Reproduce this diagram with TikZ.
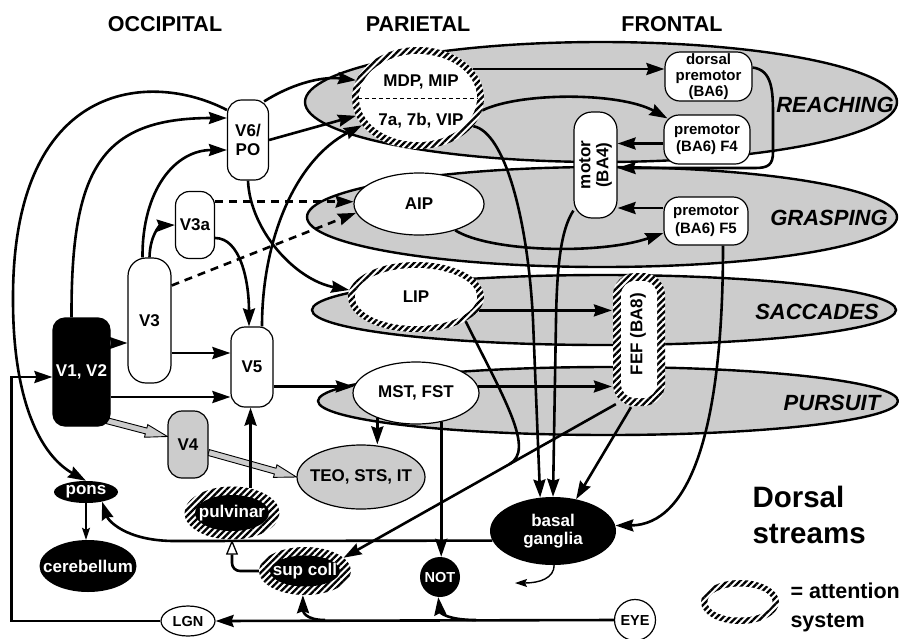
\documentclass[tikz,border=0pt]{standalone}
\usepackage{fontspec}
\setmainfont{Liberation Sans}
\usetikzlibrary{shapes.geometric,arrows.meta,patterns.meta,calc}
\pgfdeclarelayer{back}
\pgfdeclarelayer{streams}
\pgfdeclarelayer{links}
\pgfsetlayers{back,streams,links,main}
\definecolor{streamgray}{gray}{0.8}
\newcommand\hollowarr[2]{%
 \coordinate (hA) at (#1); \coordinate (hB) at (#2);
 \coordinate (hH) at ($(hB)!22pt!(hA)$);
 \filldraw[fill=streamgray, draw=black, line width=0.9pt, line join=miter]
   ($(hA)!3pt!90:(hB)$) -- ($(hH)!3pt!-90:(hA)$) -- ($(hH)!6.5pt!-90:(hA)$) -- (hB)
   -- ($(hH)!6.5pt!90:(hA)$) -- ($(hH)!3pt!90:(hA)$) -- ($(hA)!3pt!-90:(hB)$) -- cycle;}
\tikzset{
 lbl/.style={font=\bfseries\fontsize{17}{19}\selectfont},
 vbox/.style={draw, line width=1.2pt, rounded corners=14pt, fill=white, inner sep=0pt, lbl, align=center},
 pbox/.style={draw, line width=1.2pt, rounded corners=15pt, fill=white, inner sep=0pt, align=center, font=\bfseries\fontsize{15}{17.5}\selectfont},
 oval/.style={ellipse, draw, line width=1.2pt, inner xsep=-25pt, inner ysep=-6pt, lbl},
 blk/.style={ellipse, fill=black, text=white, inner xsep=-25pt, inner ysep=-6pt, lbl},
 hatch/.style={preaction={fill=white}, pattern={Lines[angle=45,distance=4.6pt,line width=2.3pt]}},
 arr/.style={line width=2.6pt, -{Stealth[length=18pt,width=12pt,inset=2pt]}},
 ln/.style={line width=2.6pt},
 sarr/.style={line width=1.4pt, -{Stealth[length=12pt,width=8pt,inset=2pt]}},
 darr/.style={arr, dash pattern=on 8pt off 6pt},
 harr/.style={line width=2.6pt, -{Triangle[length=15pt,width=12pt,fill=white,line width=1.3pt]}},
 stream/.style={draw, line width=2.4pt, fill=streamgray},
 zone/.style={font=\bfseries\itshape\fontsize{22}{24}\selectfont},
 head/.style={font=\bfseries\fontsize{21.5}{24}\selectfont},
}
\begin{document}
\begin{tikzpicture}[x=1pt,y=-1pt]
\useasboundingbox (0,0) rectangle (899,638);
\begin{pgfonlayer}{back}
\fill[white] (0,0) rectangle (899,638);
\end{pgfonlayer}
\begin{pgfonlayer}{streams}
\draw[stream] (601,102) ellipse [x radius=296pt, y radius=60pt];
\draw[stream] (602,217) ellipse [x radius=295pt, y radius=50pt];
\draw[stream] (604,310) ellipse [x radius=292pt, y radius=35pt];
\draw[stream] (608,401) ellipse [x radius=290pt, y radius=34pt];
\end{pgfonlayer}

% headings and zone labels
\node[head] (hOcc) at (165,24) {OCCIPITAL};
\node[head] (hPar) at (418,24) {PARIETAL};
\node[head] (hFro) at (672,24) {FRONTAL};
\node[zone] (zReach) at (835,105) {REACHING};
\node[zone] (zGrasp) at (829,218) {GRASPING};
\node[zone] (zSacc) at (817,312) {SACCADES};
\node[zone] (zPurs) at (832,403) {PURSUIT};

% occipital
\node[vbox, minimum width=41pt, minimum height=80pt] (V6) at (248,140) {V6/\\PO};
\node[vbox, minimum width=39pt, minimum height=67pt] (V3a) at (195,225) {V3a};
\node[vbox, minimum width=43pt, minimum height=125pt, rounded corners=18pt] (V3) at (149.5,320.5) {V3};
\node[vbox, fill=black, text=white, minimum width=57pt, minimum height=108pt, rounded corners=12pt] (V1) at (81.5,372) {V1, V2};
\node[vbox, minimum width=42pt, minimum height=80pt] (V5) at (252,367) {V5};
\node[vbox, fill=streamgray, minimum width=40pt, minimum height=67pt] (V4) at (188,444.5) {V4};

% frontal
\node[pbox, minimum width=87pt, minimum height=49pt, font=\bfseries\fontsize{15}{16}\selectfont] (dpm) at (708.5,76.5) {dorsal\\premotor\\(BA6)};
\node[pbox, minimum width=86pt, minimum height=49pt] (F4) at (707,139.5) {premotor\\(BA6) F4};
\node[pbox, minimum width=84pt, minimum height=48pt] (F5) at (706,221) {premotor\\(BA6) F5};
\node[vbox, rounded corners=18pt, minimum width=43pt, minimum height=106pt] (motor) at (595.5,165) {};
\node[rotate=90, lbl, align=center, font=\bfseries\fontsize{17}{18}\selectfont] (motorlbl) at (motor.center) {motor\\(BA4)};
\node[rectangle, rounded corners=22pt, minimum width=52pt, minimum height=133pt, inner sep=0pt, hatch,
  path picture={\fill[white, rounded corners=14pt] ($(path picture bounding box.south west)+(8pt,8pt)$) rectangle ($(path picture bounding box.north east)+(-8pt,-8pt)$);}] (FEF) at (639,339.5) {};
\node[rotate=90, lbl] (feflbl) at (638,334) {FEF (BA8)};

% parietal
\node[ellipse, inner sep=0pt, minimum width=132pt, minimum height=102pt, hatch,
  path picture={\fill[white] (path picture bounding box.center) ellipse [x radius=59pt, y radius=44pt];}] (attnA) at (418,98) {};
\node[lbl] (mdp) at (421,82) {MDP, MIP};
\node[lbl] (vip) at (421,121) {7a, 7b, VIP};
\draw[line width=0.9pt, dash pattern=on 4pt off 3pt] ([xshift=6pt]attnA.west) -- ([xshift=-6pt]attnA.east);
\node[oval, fill=white, minimum width=130pt, minimum height=62pt] (AIP) at (419,204) {AIP};
\node[ellipse, inner xsep=-25pt, inner ysep=-6pt, minimum width=136pt, minimum height=70pt, hatch, lbl,
  path picture={\fill[white] (path picture bounding box.center) ellipse [x radius=61pt, y radius=29pt];}] (LIP) at (416,297) {LIP};
\node[oval, fill=white, minimum width=126pt, minimum height=62pt] (MST) at (416,393) {MST, FST};
\node[oval, fill=streamgray, minimum width=128pt, minimum height=64pt] (TEO) at (361,477) {TEO, STS, IT};

% subcortical
\node[blk, minimum width=64pt, minimum height=22pt] (pons) at (86,492) {pons};
\node[blk, minimum width=97pt, minimum height=52pt] (cereb) at (88,566) {cerebellum};
\node[ellipse, inner xsep=-25pt, inner ysep=-6pt, minimum width=95pt, minimum height=53pt, hatch, lbl, text=white,
  path picture={\fill[black] (path picture bounding box.center) ellipse [x radius=37pt, y radius=18pt];}] (pulv) at (232,513) {pulvinar};
\node[ellipse, inner xsep=-25pt, inner ysep=-6pt, minimum width=92pt, minimum height=48pt, hatch, lbl, text=white,
  path picture={\fill[black] (path picture bounding box.center) ellipse [x radius=35pt, y radius=15.5pt];}] (supc) at (305,571) {sup coll};
\node[circle, fill=black, text=white, minimum size=40pt, inner sep=0pt, font=\bfseries\fontsize{14.5}{16}\selectfont] (NOT) at (440,577) {NOT};
\node[blk, minimum width=126pt, minimum height=68pt, align=center, font=\bfseries\fontsize{17}{18.5}\selectfont] (bg) at (553,531) {basal\\ganglia};
\node[ellipse, draw, line width=1.2pt, fill=white, minimum width=54pt, minimum height=30pt, inner xsep=-10pt, inner ysep=-4pt, font=\bfseries\fontsize{14.5}{16}\selectfont] (LGN) at (188,621) {LGN};
\node[circle, draw, line width=1.2pt, fill=white, minimum size=41pt, inner sep=0pt, font=\bfseries\fontsize{14.5}{16}\selectfont] (EYE) at (635,620) {EYE};

% legend
\node[font=\bfseries\fontsize{29.5}{32}\selectfont, anchor=base west] (ds1) at (749,507) {Dorsal};
\node[font=\bfseries\fontsize{29.5}{32}\selectfont, anchor=base west] (ds2) at (749,543) {streams};
\node[ellipse, inner sep=0pt, minimum width=78pt, minimum height=44pt, hatch,
  path picture={\fill[white] (path picture bounding box.center) ellipse [x radius=32.5pt, y radius=15.5pt];}] (legring) at (740,602) {};
\node[font=\bfseries\fontsize{21.5}{24}\selectfont, anchor=base west] (leg1) at (787,598) {= attention};
\node[font=\bfseries\fontsize{21.5}{24}\selectfont, anchor=base west] (leg2) at (787,627) {system};

\begin{pgfonlayer}{links}
% occipital links
\draw[arr] (V1.east |- 0,343) -- (V3.west |- 0,343);
\draw[arr] (V3.east |- 0,353) -- (V5.west |- 0,353);
\draw[arr] (V1.east |- 0,397) -- (V5.west |- 0,397);
\hollowarr{[xshift=-4pt,yshift=6pt]V1.south east}{[yshift=8pt]V4.west}
\hollowarr{[yshift=-8pt]V4.east}{TEO.west}
\draw[arr] (V3.north) .. controls (150,235) and (160,225.5) .. (V3a.west);
\draw[arr] ([xshift=-7pt]V3.north) .. controls (142,190) and (175,150) .. (V6.west |- 0,150);
\draw[arr] ([xshift=-10pt]V1.north) .. controls (71,170) and (100,118) .. (V6.west |- 0,118);
\draw[arr] ([yshift=30pt]V6.west) .. controls (150,70) and (12,80) .. (13,300) .. controls (13,400) and (40,455) .. (pons.north);
\draw[arr] ([xshift=-5pt,yshift=-2pt]V6.north east) .. controls (290,85) and (320,76) .. (attnA.164);
\draw[arr] (V6.east) -- (attnA.196);
\draw[arr] (V6.south) .. controls (250,230) and (295,280) .. (LIP.174);
\draw[arr] ([xshift=10pt]V5.north) .. controls (262,240) and (295,160) .. (attnA.206);
\draw[arr] ([yshift=-13pt]V3a.east) .. controls (240,238) and (249,280) .. ([xshift=-3pt]V5.north);
\draw[darr] (V3a.east |- AIP.178) -- (AIP.178);
\draw[darr] ([yshift=35pt]V3.east) -- (AIP.188);
\draw[arr] (V5.east |- MST.174) -- (MST.174);
\draw[arr] (pulv.53) -- (pulv.53 |- V5.south);
\draw[harr, rounded corners=8pt] (supc.west) -| (pulv.south);
\draw[arr] (LGN.west) -| ([xshift=-41pt,yshift=-5pt]V1.west) -- ([yshift=-5pt]V1.west);
\draw[arr] (EYE.west) -- (LGN.east);
\coordinate (eyeA) at (325,620);
\coordinate (eyeB) at (476,620);
\draw[arr] (eyeA) .. controls (306,620) and (303,612) .. (supc.-95);
\draw[arr] (eyeB) .. controls (446,620) and (440,612) .. (NOT.-95);
% parietal links
\draw[arr] (MST.213) -- (MST.213 |- TEO.north);
\draw[arr] (MST.-49) -- (MST.-49 |- NOT.north);
\draw[arr] (MST.6) -- (FEF.west |- MST.6);
\draw[arr] (LIP.-12) -- (FEF.west |- LIP.-12);
\coordinate (fefsw) at ([xshift=4pt,yshift=3pt]FEF.south west);
\draw[arr] (fefsw) -- (supc.19);
\coordinate (J) at ($(fefsw)!0.391!(supc.19)$);
\draw[ln] (LIP.-26) .. controls (505,400) and (535,450) .. (J);
\draw[arr] ([xshift=-8pt]FEF.south) -- (bg.54);
\draw[arr] ([xshift=17pt]F5.south) .. controls (723,430) and (690,525) .. (bg.5);
\draw[arr] (attnA.-27) .. controls (505,132) and (528,220) .. (533,320) -- (bg.111);
\draw[arr] ([yshift=8pt]motor.south west) .. controls (562,228) and (557,260) .. (556,320) -- (bg.north);
\draw[arr] (bg.189) -- (175,541) .. controls (125,541) and (108,520) .. (pons.-31);
\draw[sarr] (pons.south) -- (pons.south |- cereb.north);
\coordinate (bgout) at (515,583);
\draw[sarr] (bg.-88) .. controls (554,578) and (540,583) .. (bgout);
% frontal links
\draw[arr] (attnA.28) -- (dpm.west |- attnA.28);
\draw[arr] (attnA.-11) .. controls (520,92) and (620,92) .. ([xshift=4pt,yshift=-4pt]F4.north west);
\draw[arr] ([yshift=-4pt]F4.west) -- ([yshift=-4pt]F4.west -| motor.east);
\draw[arr] ([yshift=9pt]dpm.east) .. controls (772,70) and (773,90) .. (773,115) -- (773,152) .. controls (773,165) and (768,168) .. (755,168) -- ([yshift=-3pt]motor.east);
\draw[arr] ([yshift=13pt]F5.west) -- ([yshift=13pt]F5.west -| motor.east);
\draw[arr] (AIP.-36) .. controls (490,252) and (600,255) .. ([yshift=-12pt]F5.west);
\end{pgfonlayer}
\end{tikzpicture}
\end{document}
